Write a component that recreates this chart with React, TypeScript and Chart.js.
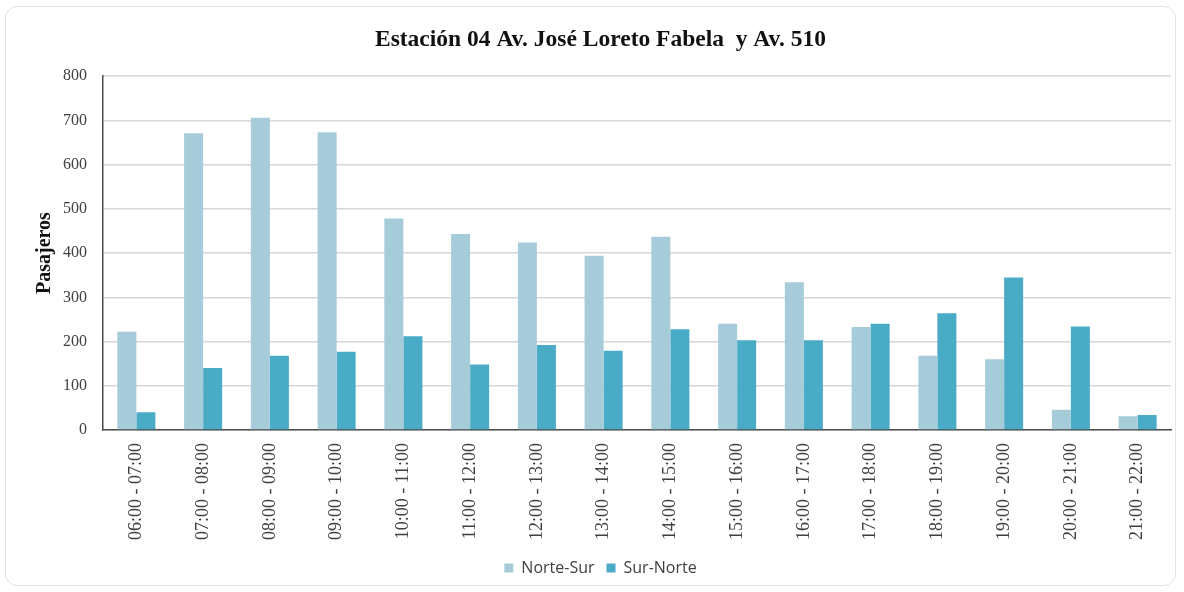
import React, { useEffect, useRef } from "react";
import { Chart, registerables } from "chart.js";

Chart.register(...registerables);

const titleText = "Estación 04 Av. José Loreto Fabela  y Av. 510";
const yAxisTitle = "Pasajeros";
const categories = [
  "06:00 - 07:00",
  "07:00 - 08:00",
  "08:00 - 09:00",
  "09:00 - 10:00",
  "10:00 - 11:00",
  "11:00 - 12:00",
  "12:00 - 13:00",
  "13:00 - 14:00",
  "14:00 - 15:00",
  "15:00 - 16:00",
  "16:00 - 17:00",
  "17:00 - 18:00",
  "18:00 - 19:00",
  "19:00 - 20:00",
  "20:00 - 21:00",
  "21:00 - 22:00",
];
const norteSur = [222, 671, 706, 673, 478, 443, 424, 394, 437, 240, 334, 233, 168, 160, 46, 31];
const surNorte = [40, 140, 168, 177, 212, 148, 192, 179, 228, 203, 203, 240, 264, 345, 234, 34];
const yMin = 0;
const yMax = 800;
const yStep = 100;

export default function App() {
  const canvasRef = useRef<HTMLCanvasElement | null>(null);

  useEffect(() => {
    if (!canvasRef.current) return;
    const chart = new Chart(canvasRef.current, {
      type: "bar",
      data: {
        labels: categories,
        datasets: [
          {
            label: "Norte-Sur",
            data: norteSur,
            backgroundColor: "#a7ccd9",
            borderWidth: 0,
            categoryPercentage: 0.57,
            barPercentage: 1,
          },
          {
            label: "Sur-Norte",
            data: surNorte,
            backgroundColor: "#4aabc6",
            borderWidth: 0,
            categoryPercentage: 0.57,
            barPercentage: 1,
          },
        ],
      },
      options: {
        responsive: false,
        animation: false,
        layout: { padding: { left: 30, right: 13, top: 0, bottom: 6 } },
        plugins: {
          tooltip: { enabled: false },
          title: {
            display: true,
            text: titleText,
            color: "#111111",
            font: { family: "'Liberation Serif'", size: 23.5, weight: "bold", lineHeight: 1.2 },
            padding: { top: 26, bottom: 22 },
          },
          legend: {
            position: "bottom",
            labels: {
              color: "#404040",
              font: { family: "'Open Sans'", size: 16 },
              boxWidth: 9,
              boxHeight: 9,
              padding: 12,
            },
          },
        },
        scales: {
          x: {
            grid: { display: false, drawTicks: false },
            border: { display: true, color: "#4d4d4d", width: 1.5 },
            ticks: {
              color: "#404040",
              font: { family: "'Liberation Serif'", size: 18 },
              minRotation: 90,
              maxRotation: 90,
              autoSkip: false,
              padding: 13,
            },
            afterFit: (scale: any) => {
              scale.height = 118;
            },
          },
          y: {
            min: yMin,
            max: yMax,
            ticks: {
              stepSize: yStep,
              color: "#404040",
              font: { family: "'Liberation Serif'", size: 16 },
              padding: 16,
            },
            grid: { color: "#d6d6d6", lineWidth: 1.5, drawTicks: false },
            border: { display: true, color: "#4d4d4d", width: 1.5 },
            title: {
              display: true,
              text: yAxisTitle,
              color: "#111111",
              font: { family: "'Liberation Serif'", size: 20, weight: "bold", lineHeight: 1.2 },
              padding: { top: 3, bottom: 0 },
            },
            afterFit: (scale: any) => {
              scale.width = 73;
            },
          },
        },
      },
    });
    return () => chart.destroy();
  }, []);

  return (
    <div style={{ position: "fixed", left: 0, top: 0, width: 1184, height: 592, background: "#ffffff" }}>
      <div
        style={{
          position: "absolute",
          left: 5,
          top: 6,
          width: 1171,
          height: 580,
          border: "1px solid #e2e2e2",
          borderRadius: 12,
          boxSizing: "border-box",
        }}
      />
      <canvas ref={canvasRef} width={1184} height={592} style={{ position: "absolute", left: 0, top: 0 }} />
    </div>
  );
}
